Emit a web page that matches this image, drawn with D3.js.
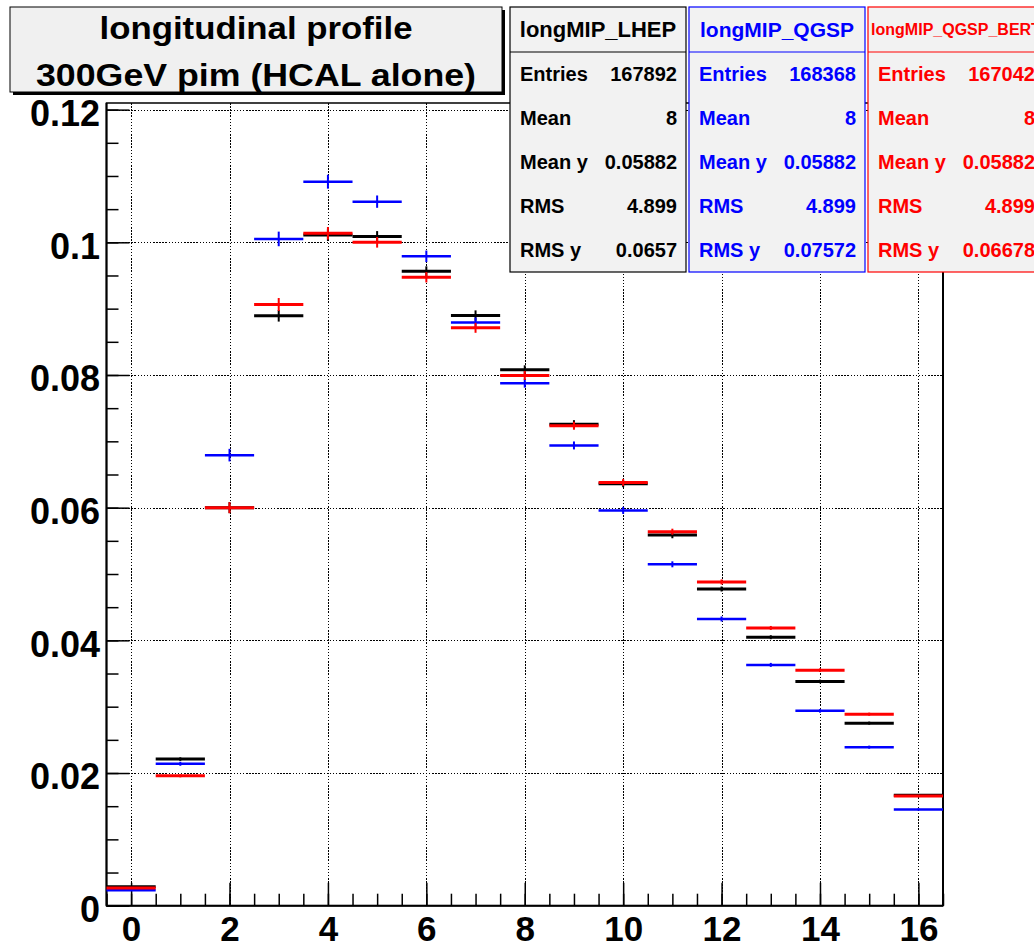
<!DOCTYPE html>
<html>
<head>
<meta charset="utf-8">
<script src="https://cdn.jsdelivr.net/npm/d3@7"></script>
<style>
  html, body { margin: 0; padding: 0; background: #ffffff; }
  svg { display: block; }
  text { font-family: "Liberation Sans", Arial, Helvetica, sans-serif; font-weight: bold; }
</style>
</head>
<body>
<svg id="chart" width="1034" height="947"></svg>
<script>
// Layer index (bin centres) of the longitudinal profile
const layers = [0, 1, 2, 3, 4, 5, 6, 7, 8, 9, 10, 11, 12, 13, 14, 15, 16];

// Normalised energy fraction per layer for each physics list
const lhepValues = [0.00286, 0.0221, 0.0600, 0.08892, 0.1011, 0.10086, 0.09563, 0.08896, 0.08078,
                    0.07259, 0.06361, 0.05587, 0.04774, 0.04047, 0.03380, 0.02752, 0.01665];
const qgspValues = [0.00232, 0.02139, 0.06792, 0.10051, 0.10914, 0.10613, 0.09789, 0.08791, 0.07877,
                    0.06938, 0.05959, 0.05146, 0.04322, 0.03630, 0.02937, 0.02390, 0.01452];
const bertValues = [0.00265, 0.01958, 0.0600, 0.09062, 0.10136, 0.1000, 0.09473, 0.08711, 0.07993,
                    0.07235, 0.06381, 0.05638, 0.04880, 0.04187, 0.03550, 0.02887, 0.01652];

// Statistical errors per layer
const lhepErrors = [0.00008, 0.00027, 0.00083, 0.00087, 0.0009, 0.00083, 0.00075, 0.00078, 0.00068,
                    0.0006, 0.00053, 0.00048, 0.00038, 0.0003, 0.00027, 0.00023, 0.00015];
const qgspErrors = [0.00008, 0.0003, 0.00095, 0.0011, 0.00105, 0.00093, 0.00087, 0.00075, 0.00068,
                    0.0006, 0.00053, 0.00045, 0.00038, 0.0003, 0.00027, 0.00023, 0.00015];
const bertErrors = [0.00008, 0.00023, 0.00083, 0.00098, 0.00095, 0.0008, 0.00078, 0.00075, 0.00068,
                    0.0006, 0.00053, 0.00045, 0.00038, 0.0003, 0.00027, 0.00023, 0.00015];

// Histogram names and statistics boxes
const seriesNames = ["longMIP_LHEP", "longMIP_QGSP", "longMIP_QGSP_BERT"];
const seriesColors = ["#000000", "#0000ff", "#ff0000"];
const statLabels = ["Entries", "Mean", "Mean y", "RMS", "RMS y"];
const lhepStats = ["167892", "8", "0.05882", "4.899", "0.0657"];
const qgspStats = ["168368", "8", "0.05882", "4.899", "0.07572"];
const bertStats = ["167042", "8", "0.05882", "4.899", "0.06678"];

// Axis ticks
const xMajorTicks = [0, 2, 4, 6, 8, 10, 12, 14, 16];
const yMajorTicks = [0, 0.02, 0.04, 0.06, 0.08, 0.1, 0.12];
const yTickLabels = ["0", "0.02", "0.04", "0.06", "0.08", "0.1", "0.12"];

const titleLines = ["longitudinal profile", "300GeV pim (HCAL alone)"];

const svg = d3.select("#chart");

const frame = { left: 106.5, right: 943, top: 103, bottom: 905.7 };

const x = d3.scaleLinear().domain([-0.5, 16.5]).range([frame.left, frame.right]);
const y = d3.scaleLinear().domain([0, 0.121]).range([frame.bottom, frame.top]);

// Snap a coordinate to a pixel centre so the dotted grid stays crisp
const crisp = v => Math.round(v) + 0.5;

// Dotted grid
const grid = svg.append("g").attr("class", "grid")
  .attr("stroke", "#000").attr("stroke-width", 1.3).attr("stroke-dasharray", "1.5,1.6")
  .attr("shape-rendering", "crispEdges");
grid.selectAll("line.gx").data(xMajorTicks).join("line")
  .attr("class", "gx")
  .attr("x1", d => crisp(x(d))).attr("x2", d => crisp(x(d)))
  .attr("y1", frame.top).attr("y2", frame.bottom);
grid.selectAll("line.gy").data(yMajorTicks.filter(d => d > 0)).join("line")
  .attr("class", "gy")
  .attr("x1", frame.left).attr("x2", frame.right)
  .attr("y1", d => crisp(y(d))).attr("y2", d => crisp(y(d)));

// Frame
svg.append("rect")
  .attr("x", frame.left).attr("y", frame.top)
  .attr("width", frame.right - frame.left).attr("height", frame.bottom - frame.top)
  .attr("fill", "none").attr("stroke", "#000").attr("stroke-width", 1.5);

// Y axis: minor ticks, then major ticks with labels
const yMinor = d3.range(0, 0.1201, 0.005);
const yMinorAxis = d3.axisLeft(y).tickValues(yMinor).tickSize(-12).tickFormat("");
const yMajorAxis = d3.axisLeft(y).tickValues(yMajorTicks).tickSize(-23).tickPadding(6.5)
  .tickFormat((d, i) => yTickLabels[i]);

const gyMinor = svg.append("g").attr("transform", `translate(${frame.left},0)`).call(yMinorAxis);
const gyMajor = svg.append("g").attr("transform", `translate(${frame.left},0)`).call(yMajorAxis);
[gyMinor, gyMajor].forEach(g => {
  g.select(".domain").remove();
  g.selectAll(".tick line").attr("stroke", "#000").attr("stroke-width", 1.5);
});
gyMajor.selectAll(".tick text")
  .attr("font-size", 36).attr("font-weight", "bold").attr("fill", "#000")
  .attr("font-family", "'Liberation Sans', Arial, sans-serif")
  .attr("dy", "0.44em");

// X axis: minor ticks every half layer, major ticks every two layers
const xMinor = d3.range(-0.5, 16.51, 0.5);
const xMinorAxis = d3.axisBottom(x).tickValues(xMinor).tickSize(-12).tickFormat("");
const xMajorAxis = d3.axisBottom(x).tickValues(xMajorTicks).tickSize(-23).tickPadding(10)
  .tickFormat(d3.format("d"));
const gxMinor = svg.append("g").attr("transform", `translate(0,${frame.bottom})`).call(xMinorAxis);
const gxMajor = svg.append("g").attr("transform", `translate(0,${frame.bottom})`).call(xMajorAxis);
[gxMinor, gxMajor].forEach(g => {
  g.select(".domain").remove();
  g.selectAll(".tick line").attr("stroke", "#000").attr("stroke-width", 1.5);
});
gxMajor.selectAll(".tick text")
  .attr("font-size", 35).attr("font-weight", "bold").attr("fill", "#000")
  .attr("font-family", "'Liberation Sans', Arial, sans-serif");

// Heavier axis lines on left, bottom and right
svg.append("line").attr("x1", frame.left).attr("x2", frame.left)
  .attr("y1", frame.top).attr("y2", frame.bottom).attr("stroke", "#000").attr("stroke-width", 2);
svg.append("line").attr("x1", frame.left).attr("x2", frame.right)
  .attr("y1", frame.bottom).attr("y2", frame.bottom).attr("stroke", "#000").attr("stroke-width", 2);
svg.append("line").attr("x1", frame.right).attr("x2", frame.right)
  .attr("y1", frame.top).attr("y2", frame.bottom).attr("stroke", "#000").attr("stroke-width", 2);

// Histogram points: horizontal bin-width bar plus vertical error bar
const series = [
  { values: lhepValues, errors: lhepErrors, color: seriesColors[0], width: 3 },
  { values: qgspValues, errors: qgspErrors, color: seriesColors[1], width: 2.5 },
  { values: bertValues, errors: bertErrors, color: seriesColors[2], width: 3 }
];

const plot = svg.append("g").attr("class", "points");
series.forEach(s => {
  const pts = layers.map((l, i) => ({ layer: l, value: s.values[i], err: s.errors[i] }));
  const g = plot.append("g").attr("stroke", s.color);
  g.selectAll("line.h").data(pts).join("line")
    .attr("class", "h")
    .attr("x1", d => x(d.layer - 0.5)).attr("x2", d => x(d.layer + 0.5))
    .attr("y1", d => y(d.value)).attr("y2", d => y(d.value))
    .attr("stroke-width", s.width);
  g.selectAll("line.v").data(pts).join("line")
    .attr("class", "v")
    .attr("x1", d => x(d.layer)).attr("x2", d => x(d.layer))
    .attr("y1", d => y(d.value - d.err)).attr("y2", d => y(d.value + d.err))
    .attr("stroke-width", 2);
});

// Title box with drop shadow
const tb = { x: 10, y: 7, w: 492, h: 85 };
svg.append("rect").attr("x", tb.x + 3).attr("y", tb.y + 3).attr("width", tb.w).attr("height", tb.h)
  .attr("fill", "#000");
svg.append("rect").attr("x", tb.x).attr("y", tb.y).attr("width", tb.w).attr("height", tb.h)
  .attr("fill", "#f0f0f0").attr("stroke", "#000").attr("stroke-width", 1);
const titleBaselines = [39, 86];
const titleWidths = [313, 440];
svg.selectAll("text.title").data(titleLines).join("text")
  .attr("class", "title")
  .attr("x", tb.x + tb.w / 2)
  .attr("y", (d, i) => titleBaselines[i])
  .attr("text-anchor", "middle")
  .attr("font-size", 31)
  .attr("textLength", (d, i) => titleWidths[i])
  .attr("lengthAdjust", "spacingAndGlyphs")
  .attr("fill", "#000")
  .text(d => d);

// Statistics boxes
const statValues = [lhepStats, qgspStats, bertStats];
const boxLefts = [510, 689, 868];
const headerSizes = [22, 21, 16];
const boxW = 176, boxTop = 7, boxSep = 52, boxBottom = 272;
const rowBaselines = [81, 125, 169, 213, 257];

seriesNames.forEach((name, k) => {
  const g = svg.append("g").attr("fill", seriesColors[k]);
  const bx = boxLefts[k];
  g.append("rect").attr("x", bx).attr("y", boxTop).attr("width", boxW).attr("height", boxBottom - boxTop)
    .attr("fill", "#f2f2f2").attr("stroke", seriesColors[k]).attr("stroke-width", 1.2);
  g.append("line").attr("x1", bx).attr("x2", bx + boxW).attr("y1", boxSep).attr("y2", boxSep)
    .attr("stroke", seriesColors[k]).attr("stroke-width", 1.2);
  g.append("text").attr("x", bx + boxW / 2).attr("y", 29 + headerSizes[k] * 0.36)
    .attr("text-anchor", "middle").attr("font-size", headerSizes[k]).text(name);
  g.selectAll("text.lab").data(statLabels).join("text")
    .attr("class", "lab")
    .attr("x", bx + 10).attr("y", (d, i) => rowBaselines[i])
    .attr("font-size", 20).text(d => d);
  g.selectAll("text.val").data(statValues[k]).join("text")
    .attr("class", "val")
    .attr("x", bx + boxW - 9).attr("y", (d, i) => rowBaselines[i])
    .attr("text-anchor", "end").attr("font-size", 20).text(d => d);
});
</script>
</body>
</html>
